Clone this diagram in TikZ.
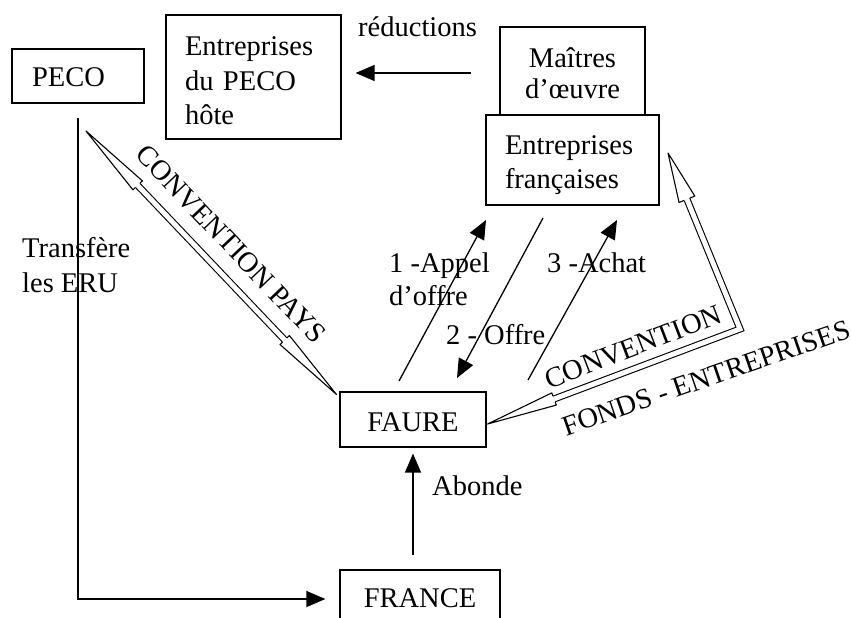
\documentclass[tikz,border=0pt]{standalone}
\usepackage{fontspec}
\setmainfont{Liberation Serif}
\usetikzlibrary{calc,arrows.meta}
\newcommand\HollowHead[4]{%
  \filldraw[fill=white,line width=1.1pt,line join=round]
    ($(#1)!#3!(#2)!3.05pt!90:(#2)$) -- ($(#1)!#3!(#2)!#4!90:(#2)$) -- (#1)
    -- ($(#1)!#3!(#2)!#4!-90:(#2)$) -- ($(#1)!#3!(#2)!3.05pt!-90:(#2)$);}
\begin{document}
\begin{tikzpicture}[x=1pt,y=-1pt,
  txt/.style={font=\fontsize{28.5}{34.5}\selectfont, inner sep=0pt},
  box/.style={txt, draw, line width=1.2pt, inner ysep=0pt},
  arr/.style={line width=1.3pt, -{Triangle[length=19pt,width=16pt]}},
  shaft/.style={double, double distance=4.9pt, line width=1.1pt, line join=miter}]
\clip (0,0) rectangle (851,618);
\fill[white] (0,0) rectangle (851,618);

% boxes
\node[box, align=left, text width=92pt, inner xsep=20pt, text height=37pt, text depth=17pt] (peco) at (78,76) {PECO};
\node[box, align=left, text width=137pt, inner xsep=19pt, text height=41pt, text depth=83pt] (entpeco) at (253.5,77) {Entreprises\\du PECO\\hôte};
\node[box, align=center, text width=125pt, inner xsep=10pt, text height=40pt, text depth=48pt, font=\fontsize{28.5}{32}\selectfont] (maitres) at (572.5,71) {Maîtres\\d’œuvre};
\node[box, align=left, text width=135pt, inner xsep=19pt, text height=39pt, text depth=51pt] (entfr) at (572.5,160) {Entreprises\\françaises};
\node[box, align=center, text width=126pt, inner xsep=10pt, text height=39pt, text depth=16pt] (faure) at (413,419.5) {FAURE};
\node[box, align=center, text width=140pt, inner xsep=10pt, text height=37pt, text depth=21pt] (france) at (420,599) {FRANCE};

% free texts
\node[txt, anchor=base west] (red) at (358,37) {réductions};
\node[txt, anchor=north west, align=left, text height=20pt] (transf) at (22,272) {Transfère\\les ERU};
\node[txt, anchor=north west, align=left, text height=20pt, font=\fontsize{28.5}{33}\selectfont] (appel) at (389,285) {1 -Appel\\d’offre};
\node[txt, anchor=base west] (offre) at (446,344) {2 - Offre};
\node[txt, anchor=base west] (achat) at (547,272) {3 -Achat};
\node[txt, anchor=base west] (abonde) at (432,495) {Abonde};
\node[txt, rotate=-46.5] (cpays) at (231,244) {CONVENTION PAYS};
\node[txt, rotate=21] (conv) at (633,347) {CONVENTION};
\node[txt, rotate=19] (fonds) at (706,378) {FONDS - ENTREPRISES};

% simple arrows
\coordinate (pecoL) at ($(peco.south)+(0,14)$);
\draw[arr, line width=1.2pt] (pecoL) |- ($(france.west)+(-14,0)$);
\coordinate (redS) at ($(maitres.west)+(-28,2)$);
\coordinate (redT) at ($(maitres.west -| entpeco.east)+(14,2)$);
\draw[arr] (redS) -- (redT);
\draw[arr] ($(france.north)+(-7,-14)$) -- ($(faure.south)+(0,6)$);
\coordinate (a1s) at (399,381); \coordinate (a1e) at (486,220);
\coordinate (a2s) at (543,218); \coordinate (a2e) at (457,378);
\coordinate (a3s) at (528,380); \coordinate (a3e) at (617,220);
\draw[arr] (a1s) -- (a1e);
\draw[arr] (a2s) -- (a2e);
\draw[arr] (a3s) -- (a3e);

% CONVENTION PAYS block arrow
\coordinate (cpA) at (86,131);
\coordinate (cpB) at ($(faure.north west)+(-3,3)$);
\draw[shaft] ($(cpA)!75pt!(cpB)$) -- ($(cpB)!75pt!(cpA)$);
\HollowHead{cpA}{cpB}{75pt}{6.5pt}
\HollowHead{cpB}{cpA}{75pt}{6.5pt}

% CONVENTION FONDS - ENTREPRISES block arrow
\coordinate (fA) at ($(faure.east)+(1,4.5)$);
\coordinate (fC) at (740,329);
\coordinate (fB) at (668,153);
\draw[shaft] ($(fA)!71pt!(fC)$) -- (fC) -- ($(fB)!50pt!(fC)$);
\HollowHead{fA}{fC}{71pt}{6.5pt}
\HollowHead{fB}{fC}{50pt}{8.5pt}
\end{tikzpicture}
\end{document}
